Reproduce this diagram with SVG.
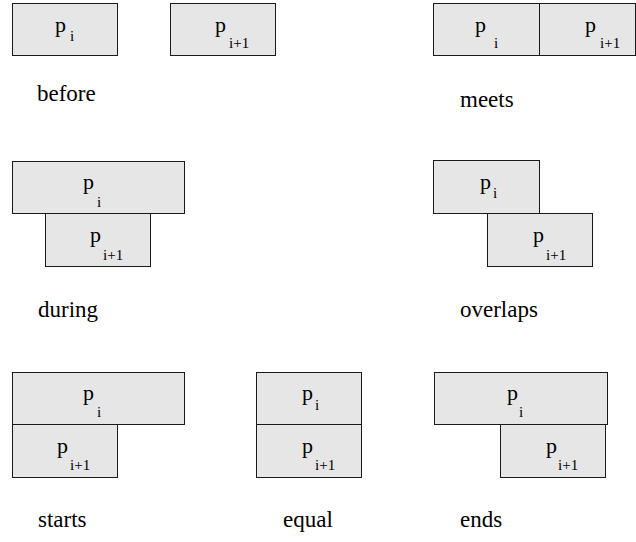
<svg xmlns="http://www.w3.org/2000/svg" width="636" height="542" viewBox="0 0 636 542">
  <style>
    .box { fill: #e6e6e6; stroke: #1a1a1a; stroke-width: 1; }
    text { font-family: 'Liberation Serif', 'DejaVu Serif', serif; fill: #000; }
    .p { font-size: 22px; }
    .sub { font-size: 15px; }
    .lbl { font-size: 23px; }
  </style>
  <rect width="636" height="542" fill="#ffffff"/>

  <!-- before -->
  <g id="before-pi">
    <rect class="box" x="12.5" y="3.5" width="105" height="52"/>
    <text class="p" x="55" y="32">p</text>
    <text class="sub" x="70" y="41">i</text>
  </g>
  <g id="before-pi1">
    <rect class="box" x="170.5" y="3.5" width="105" height="52"/>
    <text class="p" x="215" y="32">p</text>
    <text class="sub" x="229" y="48">i+1</text>
  </g>
  <text class="lbl" x="37" y="101">before</text>

  <!-- meets -->
  <g id="meets-pi">
    <rect class="box" x="433.5" y="3.5" width="106" height="52"/>
    <text class="p" x="475" y="32">p</text>
    <text class="sub" x="494" y="48">i</text>
  </g>
  <g id="meets-pi1">
    <rect class="box" x="539.5" y="3.5" width="96" height="52"/>
    <text class="p" x="585" y="32">p</text>
    <text class="sub" x="600" y="48">i+1</text>
  </g>
  <text class="lbl" x="460" y="107">meets</text>

  <!-- during -->
  <g id="during-pi">
    <rect class="box" x="12.5" y="161.5" width="172" height="52"/>
    <text class="p" x="83" y="189">p</text>
    <text class="sub" x="97" y="207">i</text>
  </g>
  <g id="during-pi1">
    <rect class="box" x="45.5" y="213.5" width="105" height="53"/>
    <text class="p" x="90" y="242">p</text>
    <text class="sub" x="103" y="260">i+1</text>
  </g>
  <text class="lbl" x="38" y="317">during</text>

  <!-- overlaps -->
  <g id="overlaps-pi">
    <rect class="box" x="433.5" y="160.5" width="106" height="53"/>
    <text class="p" x="480" y="189">p</text>
    <text class="sub" x="493" y="198">i</text>
  </g>
  <g id="overlaps-pi1">
    <rect class="box" x="487.5" y="213.5" width="105" height="53"/>
    <text class="p" x="533" y="242">p</text>
    <text class="sub" x="546" y="260">i+1</text>
  </g>
  <text class="lbl" x="460" y="317">overlaps</text>

  <!-- starts -->
  <g id="starts-pi">
    <rect class="box" x="12.5" y="372.5" width="172" height="52"/>
    <text class="p" x="83" y="400">p</text>
    <text class="sub" x="97" y="417">i</text>
  </g>
  <g id="starts-pi1">
    <rect class="box" x="12.5" y="424.5" width="105" height="53"/>
    <text class="p" x="57" y="453">p</text>
    <text class="sub" x="70" y="470">i+1</text>
  </g>
  <text class="lbl" x="38" y="527">starts</text>

  <!-- equal -->
  <g id="equal-pi">
    <rect class="box" x="256.5" y="372.5" width="105" height="52"/>
    <text class="p" x="302" y="400">p</text>
    <text class="sub" x="315" y="410">i</text>
  </g>
  <g id="equal-pi1">
    <rect class="box" x="256.5" y="424.5" width="105" height="53"/>
    <text class="p" x="302" y="453">p</text>
    <text class="sub" x="315" y="470">i+1</text>
  </g>
  <text class="lbl" x="283" y="527">equal</text>

  <!-- ends -->
  <g id="ends-pi">
    <rect class="box" x="434.5" y="372.5" width="173" height="52"/>
    <text class="p" x="507" y="400">p</text>
    <text class="sub" x="519" y="417">i</text>
  </g>
  <g id="ends-pi1">
    <rect class="box" x="500.5" y="424.5" width="105" height="53"/>
    <text class="p" x="546" y="453">p</text>
    <text class="sub" x="558" y="470">i+1</text>
  </g>
  <text class="lbl" x="460" y="527">ends</text>
</svg>
